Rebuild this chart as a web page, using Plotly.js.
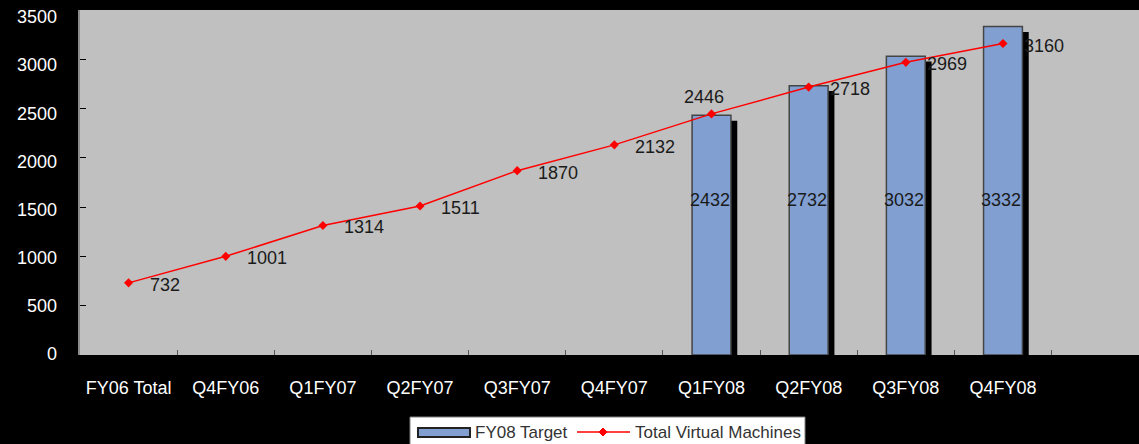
<!DOCTYPE html>
<html>
<head>
<meta charset="utf-8">
<script src="https://cdn.plot.ly/plotly-3.0.1.min.js"></script>
<style>
html,body{margin:0;padding:0;background:#000;}
#chart{width:1139px;height:444px;}
</style>
</head>
<body>
<div id="chart"></div>
<script>
const categories = ['FY06 Total','Q4FY06','Q1FY07','Q2FY07','Q3FY07','Q4FY07','Q1FY08','Q2FY08','Q3FY08','Q4FY08'];
const targetCategories = ['Q1FY08','Q2FY08','Q3FY08','Q4FY08'];
const targetValues = [2432, 2732, 3032, 3332];
const totalVM = [732, 1001, 1314, 1511, 1870, 2132, 2446, 2718, 2969, 3160];
const yTicks = [0, 500, 1000, 1500, 2000, 2500, 3000, 3500];
const seriesNames = ['FY08 Target', 'Total Virtual Machines'];

const FONT = '"Liberation Sans", Arial, sans-serif';
const BAR_WIDTH = 0.4;
const SHADOW_DROP = 55;        // value units the shadow sits below the bar top
const TARGET_LABEL_LEVEL = 1570;
const BAR_COLOR = '#819FD0';
const LINE_COLOR = '#FF0000';

const W = 1139, H = 444, ML = 80, MR = 0, MT = 10, MB = 89;
const PW = W - ML - MR, PH = H - MT - MB;
const px = v => (v - ML) / PW;          // pixel -> paper x
const py = v => (H - MB - v) / PH;      // pixel -> paper y

const shadow = {
  type: 'bar', x: targetCategories, y: targetValues, base: -SHADOW_DROP,
  width: BAR_WIDTH, offset: -BAR_WIDTH/2 + 0.065,
  marker: {color: '#000000', line: {width: 0}},
  showlegend: false, hoverinfo: 'skip'
};
const bars = {
  type: 'bar', name: seriesNames[0], x: targetCategories, y: targetValues,
  width: BAR_WIDTH, offset: -BAR_WIDTH/2,
  marker: {color: BAR_COLOR, line: {color: '#454545', width: 1.5}}
};
const line = {
  type: 'scatter', mode: 'lines+markers', name: seriesNames[1],
  x: categories, y: totalVM,
  line: {color: LINE_COLOR, width: 1.5},
  marker: {color: LINE_COLOR, symbol: 'diamond', size: 7}
};
// invisible carrier so the label axis (y2) is drawn
const labelAxisCarrier = {
  type: 'scatter', mode: 'markers', x: categories, y: totalVM, yaxis: 'y2',
  marker: {opacity: 0}, showlegend: false, hoverinfo: 'skip'
};

const annotations = [];
targetCategories.forEach((c, i) => {
  annotations.push({x: c, y: TARGET_LABEL_LEVEL, xref: 'x', yref: 'y', text: String(targetValues[i]),
    showarrow: false, xanchor: 'center', yanchor: 'middle', xshift: -2,
    font: {family: FONT, size: 18, color: '#1a1a1a'}});
});
categories.forEach((c, i) => {
  const above = c === 'Q1FY08';
  annotations.push({x: c, y: totalVM[i], xref: 'x', yref: 'y', text: String(totalVM[i]),
    showarrow: false,
    xanchor: above ? 'center' : 'left', yanchor: above ? 'bottom' : 'middle',
    xshift: above ? -8 : 19, yshift: above ? 5 : -2,
    font: {family: FONT, size: 18, color: '#1a1a1a'}});
});

// legend (drawn to match the wide Excel swatches)
const legendFont = {family: FONT, size: 17, color: '#333333'};
annotations.push({xref: 'paper', yref: 'paper', x: px(474), y: py(432), xanchor: 'left', yanchor: 'middle',
  text: seriesNames[0], showarrow: false, font: legendFont, borderpad: 0});
annotations.push({xref: 'paper', yref: 'paper', x: px(634), y: py(432), xanchor: 'left', yanchor: 'middle',
  text: seriesNames[1], showarrow: false, font: legendFont, borderpad: 0});

const shapes = [
  {type: 'rect', xref: 'paper', yref: 'paper', x0: px(410), x1: px(805), y0: py(417), y1: py(450),
   fillcolor: '#FFFFFF', line: {color: '#808080', width: 1}, layer: 'above'},
  {type: 'rect', xref: 'paper', yref: 'paper', x0: px(418), x1: px(470), y0: py(428), y1: py(437),
   fillcolor: BAR_COLOR, line: {color: '#222222', width: 2}, layer: 'above'},
  {type: 'line', xref: 'paper', yref: 'paper', x0: px(577), x1: px(630), y0: py(432), y1: py(432),
   line: {color: LINE_COLOR, width: 1.5}, layer: 'above'},
  {type: 'path', xref: 'paper', yref: 'paper', layer: 'above', fillcolor: LINE_COLOR, line: {color: LINE_COLOR, width: 1},
   path: `M${px(603)},${py(428)} L${px(607)},${py(432)} L${px(603)},${py(436)} L${px(599)},${py(432)} Z`}
];

const layout = {
  width: W, height: H,
  margin: {l: ML, r: MR, t: MT, b: MB},
  paper_bgcolor: '#000000', plot_bgcolor: '#C0C0C0',
  barmode: 'overlay',
  font: {family: FONT, size: 18, color: '#FFFFFF'},
  xaxis: {
    type: 'category', categoryarray: categories, range: [-0.5, 10.4],
    tickson: 'boundaries', ticks: 'inside', ticklen: 5, tickcolor: '#555555',
    showgrid: false, zeroline: false, showline: false,
    ticklabelstandoff: 20,
    tickfont: {family: FONT, size: 18, color: '#FFFFFF'}
  },
  yaxis: {
    range: [0, 3500], tickvals: yTicks,
    ticks: 'inside', ticklen: 6, tickcolor: '#000000',
    showticklabels: false,
    showgrid: false, zeroline: false,
    showline: true, linecolor: '#8C8C8C', linewidth: 2
  },
  // label axis: Excel spaced its value labels slightly tighter than the ticks
  yaxis2: {
    overlaying: 'y', side: 'left', range: [-10.4, 3572.6], tickvals: yTicks,
    ticks: '', showgrid: false, zeroline: false, showline: false,
    ticklabelstandoff: 22,
    tickfont: {family: FONT, size: 18, color: '#FFFFFF'}
  },
  showlegend: false,
  annotations: annotations,
  shapes: shapes
};

Plotly.newPlot('chart', [shadow, bars, line, labelAxisCarrier], layout, {staticPlot: true, displayModeBar: false});
</script>
</body>
</html>
